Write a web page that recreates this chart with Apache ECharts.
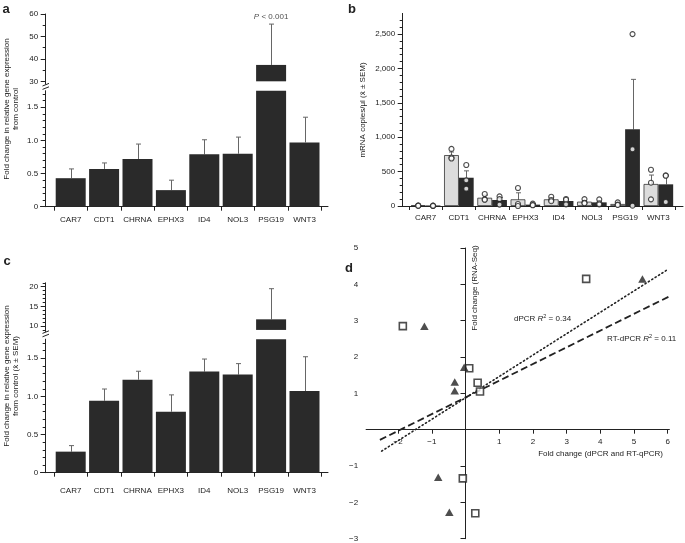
<!DOCTYPE html>
<html><head><meta charset="utf-8">
<script src="https://cdn.jsdelivr.net/npm/echarts@6/dist/echarts.min.js"></script>
<style>html,body{margin:0;padding:0;background:#fff}#c{width:685px;height:543px}</style>
</head><body><div id="c"></div>
<script>
const genes = ['CAR7','CDT1','CHRNA','EPHX3','ID4','NOL3','PSG19','WNT3'];

// Panel a (fold change, broken axis)
const aMean   = [0.43, 0.57, 0.72, 0.25, 0.79, 0.80, 37.3, 0.97];
const aErrTop = [0.57, 0.66, 0.945, 0.40, 1.01, 1.05, 55.5, 1.35];
const aLowTicks  = [0, 0.5, 1, 1.5];
const aLowLabels = ['0', '0.5', '1.0', '1.5'];
const aLowMinor  = [0.1,0.2,0.3,0.4,0.6,0.7,0.8,0.9,1.1,1.2,1.3,1.4,1.6,1.7];
const aUpTicks   = [30, 40, 50, 60];
const aUpLabels  = ['30', '40', '50', '60'];
const aUpMinor   = [35, 45, 55];
const aLowMax = 1.75, aUpMin = 28.8, aUpBase = 30, aUpMax = 60;

// Panel b (mRNA copies/µl)
const bLightMean = [10, 740, 120, 97, 97, 63, 29, 320];
const bLightSem  = [4, 45, 40, 95, 15, 15, 10, 130];
const bDarkMean  = [8, 411, 87, 20, 73, 53, 1114, 315];
const bDarkSem   = [3, 100, 35, 12, 20, 15, 727, 125];
const bLightPts  = [[8,5,3],[830,705,690],[174,97,90],[262,29,0],[135,87,70],[100,48,40],[53,20,15],[527,339,97]];
const bDarkPts   = [[5,3,2],[596,373,252],[140,100,20],[34,15,10],[102,90,24],[97,40,24],[2499,824,5],[446,440,58]];
const bTicks  = [0, 500, 1000, 1500, 2000, 2500];
const bLabels = ['0', '500', '1,000', '1,500', '2,000', '2,500'];
const bMinor  = [100,200,300,400,600,700,800,900,1100,1200,1300,1400,1600,1700,1800,1900,2100,2200,2300,2400,2600,2700];
const bMax = 2800;

// Panel c (fold change ± SEM, broken axis)
const cMean   = [0.276, 0.943, 1.22, 0.80, 1.325, 1.286, 11.7, 1.07];
const cErrTop = [0.355, 1.097, 1.33, 1.02, 1.49, 1.43, 19.5, 1.52];
const cLowTicks  = [0, 0.5, 1, 1.5];
const cLowLabels = ['0', '0.5', '1.0', '1.5'];
const cLowMinor  = [0.1,0.2,0.3,0.4,0.6,0.7,0.8,0.9,1.1,1.2,1.3,1.4,1.6,1.7];
const cUpTicks   = [10, 15, 20];
const cUpLabels  = ['10', '15', '20'];
const cUpMinor   = [9, 11, 12, 13, 14, 16, 17, 18, 19, 21];
const cLowMax = 1.75, cUpMin = 8.6, cUpBase = 9, cUpMax = 21;

// Panel d (scatter)
const dSquares = [[-1.86,2.85],[3.58,4.15],[0.11,1.69],[0.36,1.29],[0.43,1.05],[-0.08,-1.34],[0.29,-2.30]];
const dTriangles = [[-1.22,2.85],[5.25,4.15],[-0.04,1.72],[-0.32,1.31],[-0.32,1.07],[-0.81,-1.31],[-0.48,-2.27]];
const dDotLine  = [[-2.49,-0.59],[5.97,4.39]];
const dDashLine = [[-2.54,-0.28],[6.05,3.67]];
const dXTicks  = [-2,-1,1,2,3,4,5,6];
const dXLabels = ['\u22122','\u22121','1','2','3','4','5','6'];
const dYTicks  = [-3,-2,-1,1,2,3,4,5];
const dYLabels = ['\u22123','\u22122','\u22121','1','2','3','4','5'];
const dXMin = -2.95, dXMax = 6.05, dYMin = -3, dYMax = 5;

const FONT = '"Liberation Sans", Arial, Helvetica, sans-serif';
const INK = '#222';
const BAR = '#2a2a2a';
const ERR = '#666';
const BW_A = 30, BW_B = 14.8;

const chart = echarts.init(document.getElementById('c'), null, {renderer: 'canvas', width: 685, height: 543});

const grids = [
  {left: 54,    top: 14,    width: 267.2, height: 70},     // 0 a upper
  {left: 54,    top: 90.7,  width: 267.2, height: 116},    // 1 a lower
  {left: 40.5,  top: 90.7,  width: 287.5, height: 116},    // 2 a frame
  {left: 409,   top: 13.4,  width: 266,   height: 192.6},  // 3 b
  {left: 400,   top: 13.4,  width: 283,   height: 192.6},  // 4 b frame
  {left: 54,    top: 282.8, width: 267.2, height: 48.7},   // 5 c upper
  {left: 54,    top: 339.2, width: 267.2, height: 133.5},  // 6 c lower
  {left: 40.5,  top: 339.2, width: 287.5, height: 133.5},  // 7 c frame
  {left: 366.1, top: 248,   width: 303.3, height: 290.7}   // 8 d
].map(g => Object.assign({containLabel: false, outerBoundsMode: 'none'}, g));

const lineSt = {color: INK, width: 1};
function catAxis(gi, labelMargin) {
  if (labelMargin === null) return {type: 'category', gridIndex: gi, data: genes, show: false};
  return {type: 'category', gridIndex: gi, data: genes, boundaryGap: true,
    axisLine: {show: false},
    axisTick: {show: true, length: 4, interval: 0, lineStyle: lineSt},
    axisLabel: {show: true, interval: 0, margin: labelMargin, fontSize: 8, fontFamily: FONT, color: INK},
    splitLine: {show: false}};
}
function frameX(gi) {
  return {type: 'value', gridIndex: gi, min: 0, max: 1, position: 'bottom',
    axisLine: {show: true, onZero: false, lineStyle: lineSt},
    axisTick: {show: false}, axisLabel: {show: false}, splitLine: {show: false}};
}
function frameY(gi) { return {type: 'value', gridIndex: gi, min: 0, max: 1, show: false}; }
function lbl(ticks, labels) {
  return v => { const k = ticks.findIndex(t => Math.abs(t - v) < 1e-9); return k >= 0 ? labels[k] : ''; };
}
function majorY(gi, min, max, ticks, labels, offset) {
  return {type: 'value', gridIndex: gi, min, max, position: 'left', offset,
    axisLine: {show: true, onZero: false, lineStyle: lineSt},
    axisTick: {show: true, length: 5, customValues: ticks, lineStyle: lineSt},
    axisLabel: {show: true, customValues: ticks, margin: 7.5, fontSize: 8, fontFamily: FONT, color: INK,
      formatter: lbl(ticks, labels)},
    splitLine: {show: false}};
}
function minorY(gi, min, max, minors, offset) {
  return {type: 'value', gridIndex: gi, min, max, position: 'left', offset,
    axisLine: {show: false},
    axisTick: {show: true, length: 3, customValues: minors, lineStyle: lineSt},
    axisLabel: {show: false}, splitLine: {show: false}};
}

const xAxis = [
  catAxis(0, null),        // 0
  catAxis(1, 9),           // 1
  frameX(2),               // 2
  catAxis(3, 8),           // 3
  frameX(4),               // 4
  catAxis(5, null),        // 5
  catAxis(6, 14),          // 6
  frameX(7),               // 7
  {type: 'value', gridIndex: 8, min: dXMin, max: dXMax,
    axisLine: {show: true, onZero: true, lineStyle: lineSt},
    axisTick: {show: true, length: 4, customValues: dXTicks, lineStyle: lineSt},
    axisLabel: {show: false},
    splitLine: {show: false}}   // 8 (labels placed below via convertToPixel)
];
const offA = 54 - 45.7, offB = 409 - 402.7;
const yAxis = [
  majorY(0, aUpMin, aUpMax, aUpTicks, aUpLabels, offA),   // 0
  minorY(0, aUpMin, aUpMax, aUpMinor, offA),              // 1
  majorY(1, 0, aLowMax, aLowTicks, aLowLabels, offA),     // 2
  minorY(1, 0, aLowMax, aLowMinor, offA),                 // 3
  frameY(2),                                              // 4
  majorY(3, 0, bMax, bTicks, bLabels, offB),              // 5
  minorY(3, 0, bMax, bMinor, offB),                       // 6
  frameY(4),                                              // 7
  majorY(5, cUpMin, cUpMax, cUpTicks, cUpLabels, offA),   // 8
  minorY(5, cUpMin, cUpMax, cUpMinor, offA),              // 9
  majorY(6, 0, cLowMax, cLowTicks, cLowLabels, offA),     // 10
  minorY(6, 0, cLowMax, cLowMinor, offA),                 // 11
  frameY(7),                                              // 12
  {type: 'value', gridIndex: 8, min: dYMin, max: dYMax,
    axisLine: {show: true, onZero: true, lineStyle: lineSt},
    axisTick: {show: true, length: 5, customValues: dYTicks, lineStyle: lineSt},
    axisLabel: {show: true, customValues: dYTicks, margin: 8, fontSize: 8, fontFamily: FONT, color: INK,
      formatter: lbl(dYTicks, dYLabels)},
    splitLine: {show: false}}                              // 13
];

function errSeries(xi, yi, items, offset, bothCaps) {
  return {type: 'custom', xAxisIndex: xi, yAxisIndex: yi, clip: true, silent: true,
    data: items,
    renderItem: (params, api) => {
      const lo = api.coord([api.value(0), api.value(1)]);
      const hi = api.coord([api.value(0), api.value(2)]);
      const x = Math.round(hi[0] + offset) + 0.5;
      const st = {stroke: ERR, lineWidth: 1};
      const ch = [
        {type: 'line', shape: {x1: x, y1: lo[1], x2: x, y2: hi[1]}, style: st},
        {type: 'line', shape: {x1: x - 2.5, y1: hi[1], x2: x + 2.5, y2: hi[1]}, style: st}
      ];
      if (bothCaps) ch.push({type: 'line', shape: {x1: x - 2.5, y1: lo[1], x2: x + 2.5, y2: lo[1]}, style: st});
      return {type: 'group', children: ch};
    }};
}

function brokenSeries(xUp, yUp, xLow, yLow, mean, errTop, lowMax, upBase) {
  const lowErr = mean.map((m, i) => [i, m, errTop[i]]).filter(d => d[2] <= lowMax);
  const upErr = mean.map((m, i) => [i, m, errTop[i]]).filter(d => d[1] > upBase);
  return [
    {type: 'bar', xAxisIndex: xLow, yAxisIndex: yLow, data: mean, barWidth: BW_A, clip: true,
      itemStyle: {color: BAR}, silent: true},
    errSeries(xLow, yLow, lowErr, 0, false),
    {type: 'bar', xAxisIndex: xUp, yAxisIndex: yUp, stack: 'up' + xUp, barWidth: BW_A, clip: true, silent: true,
      data: mean.map(v => v > upBase ? upBase : '-'), itemStyle: {color: 'rgba(0,0,0,0)'}},
    {type: 'bar', xAxisIndex: xUp, yAxisIndex: yUp, stack: 'up' + xUp, barWidth: BW_A, clip: true, silent: true,
      data: mean.map(v => v > upBase ? v - upBase : '-'), itemStyle: {color: BAR}},
    errSeries(xUp, yUp, upErr, 0, false)
  ];
}

const series = [];
series.push(...brokenSeries(0, 0, 1, 2, aMean, aErrTop, aLowMax, aUpBase));
// P < 0.001 annotation anchored above PSG19 error bar
series.push({type: 'scatter', xAxisIndex: 0, yAxisIndex: 0, symbolSize: 0, silent: true,
  data: aErrTop.map((v, i) => [i, v]).filter(d => aMean[d[0]] > aUpBase),
  label: {show: true, position: 'top', distance: 3, color: INK, formatter: '{i|P}{n| < 0.001}',
    rich: {i: {fontSize: 8, fontStyle: 'italic', fontFamily: FONT, color: INK},
           n: {fontSize: 8, fontFamily: FONT, color: INK}}}});
series.push(...brokenSeries(5, 8, 6, 10, cMean, cErrTop, cLowMax, cUpBase));

// Panel b
series.push({type: 'bar', xAxisIndex: 3, yAxisIndex: 5, data: bLightMean, barWidth: BW_B, barGap: '0%', silent: true,
  itemStyle: {color: '#dcdcdc', borderColor: '#333', borderWidth: 0.8}});
series.push({type: 'bar', xAxisIndex: 3, yAxisIndex: 5, data: bDarkMean, barWidth: BW_B, barGap: '0%', silent: true,
  itemStyle: {color: BAR}});
series.push(errSeries(3, 5, bLightMean.map((m, i) => [i, Math.max(0, m - bLightSem[i]), m + bLightSem[i]]), -BW_B / 2, true));
series.push(errSeries(3, 5, bDarkMean.map((m, i) => [i, m, m + bDarkSem[i]]), BW_B / 2, false));
const ptStyle = {color: '#fff', borderColor: INK, borderWidth: 1.1};
series.push({type: 'scatter', xAxisIndex: 3, yAxisIndex: 5, symbol: 'circle', symbolSize: 5, silent: true,
  symbolOffset: [-BW_B / 2, 0], itemStyle: ptStyle,
  data: bLightPts.flatMap((arr, i) => arr.map(v => [i, v]))});
series.push({type: 'scatter', xAxisIndex: 3, yAxisIndex: 5, symbol: 'circle', symbolSize: 5, silent: true,
  symbolOffset: [BW_B / 2, 0], itemStyle: ptStyle,
  data: bDarkPts.flatMap((arr, i) => arr.map(v => [i, v]))});

// Panel d
series.push({type: 'line', xAxisIndex: 8, yAxisIndex: 13, data: dDotLine, symbol: 'none', silent: true, clip: false, z: 1,
  lineStyle: {color: INK, width: 1.6, type: [1.2, 2.8], cap: 'round'}});
series.push({type: 'line', xAxisIndex: 8, yAxisIndex: 13, data: dDashLine, symbol: 'none', silent: true, clip: false, z: 1,
  lineStyle: {color: INK, width: 1.8, type: [7, 3.5]}});
series.push({type: 'scatter', xAxisIndex: 8, yAxisIndex: 13, data: dSquares, symbol: 'rect', symbolSize: 7, silent: true,
  itemStyle: {color: '#fff', borderColor: INK, borderWidth: 1.6}});
series.push({type: 'scatter', xAxisIndex: 8, yAxisIndex: 13, data: dTriangles, symbol: 'triangle', symbolSize: [8.5, 7.5], silent: true,
  itemStyle: {color: INK}});

function txt(x, y, text, opts) {
  return Object.assign({type: 'text', x, y, silent: true, z: 100,
    style: Object.assign({text, fontSize: 8, fontFamily: FONT, fill: INK, align: 'center', verticalAlign: 'middle',
      textAlign: 'center', textVerticalAlign: 'middle'}, (opts && opts.style) || {})},
    (opts && opts.rotation) ? {rotation: opts.rotation} : {});
}
function brk(x1, y1, x2, y2) {
  return {type: 'line', silent: true, shape: {x1, y1, x2, y2}, style: {stroke: INK, lineWidth: 1}};
}
const R90 = Math.PI / 2;
const richR = {i: {fontSize: 8, fontStyle: 'italic', fontFamily: FONT}, s: {fontSize: 5.5, fontFamily: FONT, padding: [0, 0, 5, 0]},
  n: {fontSize: 8, fontFamily: FONT}};
const graphic = [
  txt(6, 9, 'a', {style: {fontSize: 13, fontWeight: 'bold'}}),
  txt(352, 9, 'b', {style: {fontSize: 13, fontWeight: 'bold'}}),
  txt(7, 261, 'c', {style: {fontSize: 13, fontWeight: 'bold'}}),
  txt(349, 268, 'd', {style: {fontSize: 13, fontWeight: 'bold'}}),
  txt(11, 109, 'Fold change in relative gene expression\nfrom control', {rotation: R90, style: {lineHeight: 9}}),
  txt(11, 376, 'Fold change in relative gene expression\nfrom control (x\u0304 \u00b1 SEM)', {rotation: R90, style: {lineHeight: 9}}),
  txt(363, 110, 'mRNA copies/\u03bcl (x\u0304 \u00b1 SEM)', {rotation: R90}),
  txt(475, 288, 'Fold change (RNA-Seq)', {rotation: R90}),
  txt(663, 454, 'Fold change (dPCR and RT-qPCR)', {style: {align: 'right', textAlign: 'right'}}),
  txt(514, 319, '{n|dPCR }{i|R}{s|2}{n| = 0.34}', {style: {align: 'left', textAlign: 'left', rich: richR}}),
  txt(607, 339, '{n|RT-dPCR }{i|R}{s|2}{n| = 0.11}', {style: {align: 'left', textAlign: 'left', rich: richR}}),
  brk(42.5, 86, 49, 83.4), brk(42.5, 89.4, 49, 86.8),
  brk(42.5, 333.4, 49, 330.8), brk(42.5, 336.8, 49, 334.2)
];

chart.setOption({animation: false, backgroundColor: '#fff', textStyle: {fontFamily: FONT},
  grid: grids, xAxis, yAxis, series});

// x tick labels of panel d, placed through the library's own scale below the zero line
const dXLabelGraphics = dXTicks.map((v, i) => {
  const p = chart.convertToPixel({gridIndex: 8}, [v, 0]);
  return txt(p[0], p[1] + 8, dXLabels[i], {style: {verticalAlign: 'top', textVerticalAlign: 'top'}});
});
chart.setOption({graphic: graphic.concat(dXLabelGraphics)});
</script></body></html>
